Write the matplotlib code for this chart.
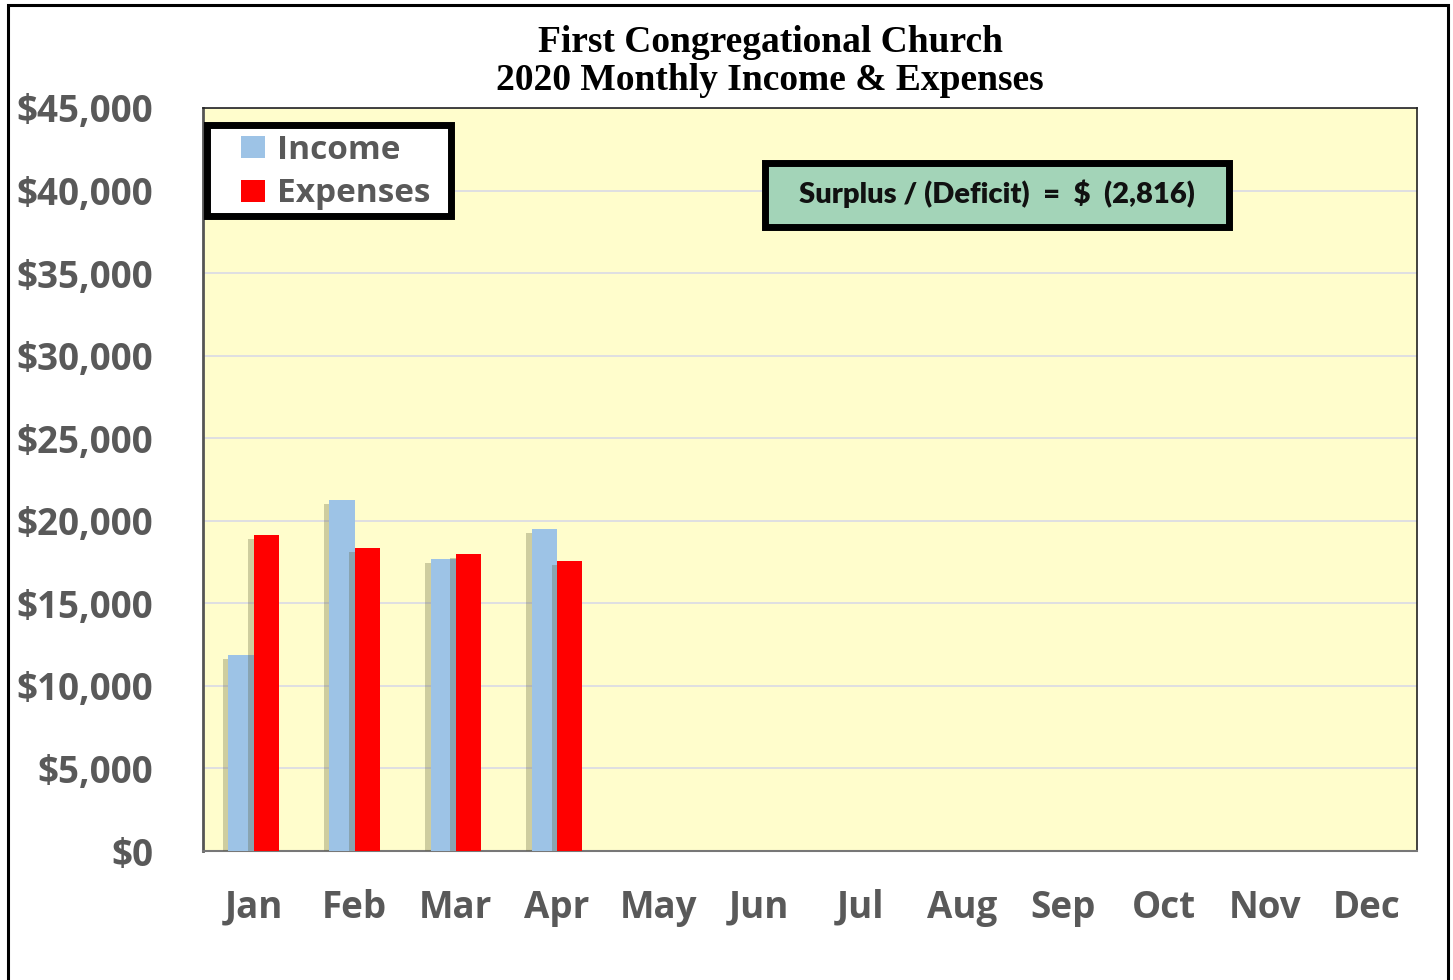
import matplotlib
matplotlib.use("Agg")
import matplotlib.pyplot as plt
import matplotlib.patheffects as pe
from matplotlib.patches import Rectangle
from matplotlib.ticker import FuncFormatter
import numpy as np

months = ["Jan", "Feb", "Mar", "Apr", "May", "Jun", "Jul", "Aug", "Sep", "Oct", "Nov", "Dec"]
income = [11870, 21260, 17680, 19500]
expenses = [19140, 18350, 17990, 17560]
yticks = list(range(0, 45001, 5000))
title_lines = ["First Congregational Church", "2020 Monthly Income & Expenses"]
series_names = ["Income", "Expenses"]
series_colors = ["#9dc3e6", "#ff0000"]
note = "Surplus / (Deficit)  =  $  (2,816)"

W, H = 1453, 980
fig = plt.figure(figsize=(W / 100, H / 100), dpi=100)
fig.patch.set_facecolor("white")

def fx(px):
    return px / W

def fy(py):
    return 1 - py / H

# outer border
fig.add_artist(Rectangle((fx(8), -0.05), fx(1448 - 8), 1.05 - 5 / H,
                         transform=fig.transFigure, fill=False, ec="black", lw=2.2))

ax = fig.add_axes([fx(203), fy(851), fx(1417 - 203), (851 - 108) / H])
ax.set_facecolor("#fffdcc")

x = np.arange(len(months))
w = 0.25
shadow = [pe.SimplePatchShadow(offset=(-4, -3), shadow_rgbFace="#5e5e38", alpha=0.3), pe.Normal()]
b1 = ax.bar(x[:len(income)] - w / 2, income, w, color=series_colors[0], zorder=3)
b2 = ax.bar(x[:len(expenses)] + w / 2, expenses, w, color=series_colors[1], zorder=3)
for b in list(b1) + list(b2):
    b.set_path_effects(shadow)

ax.set_xlim(-0.5, 11.5)
ax.set_ylim(0, 45000)
ax.set_yticks(yticks)
ax.yaxis.set_major_formatter(FuncFormatter(lambda v, p: f"${v:,.0f}"))
ax.set_xticks(x)
ax.set_xticklabels(months)
ax.grid(axis="y", color="#d9d9e6", lw=1.2, zorder=0)
ax.set_axisbelow(True)
ax.tick_params(axis="both", length=0, labelsize=26.5, labelcolor="#595959")
ax.tick_params(axis="x", pad=27)
ax.tick_params(axis="y", pad=36)
for lab in ax.get_xticklabels() + ax.get_yticklabels():
    lab.set_fontweight("bold")
    lab.set_family("Open Sans")
for s in ax.spines.values():
    s.set_color("#222222")
    s.set_linewidth(1.2)
ax.spines["left"].set_color("#555555")
ax.spines["left"].set_linewidth(2)
ax.spines["bottom"].set_color("#777777")
ax.spines["bottom"].set_linewidth(1.5)

for i, (line, ypx) in enumerate(zip(title_lines, [42, 81])):
    fig.text(fx(770), fy(ypx), line, ha="center", va="center", fontsize=27,
             fontweight="bold", family="Liberation Serif")

# legend box
fig.add_artist(Rectangle((fx(207), fy(216)), fx(451 - 207), (216 - 125) / H,
                         transform=fig.transFigure, fc="white", ec="black", lw=5, zorder=5))
for i, (name, col) in enumerate(zip(series_names, series_colors)):
    yc = [147, 191][i]
    fig.add_artist(Rectangle((fx(241), fy(yc + 11)), fx(24), 22 / H,
                             transform=fig.transFigure, fc=col, ec="none", zorder=6))
    fig.text(fx(277), fy(yc + 3), name, ha="left", va="center", fontsize=24,
             fontweight="bold", family="Open Sans", color="#595959", zorder=6)

# surplus box
fig.add_artist(Rectangle((fx(765), fy(227)), fx(1229 - 765), (227 - 163) / H,
                         transform=fig.transFigure, fc="#a3d4b8", ec="black", lw=5, zorder=5))
fig.text(fx(997), fy(194), note, ha="center", va="center", fontsize=21,
         fontweight="heavy", family="Lato", color="#111111", zorder=6)

fig.savefig("out.png", dpi=100)
